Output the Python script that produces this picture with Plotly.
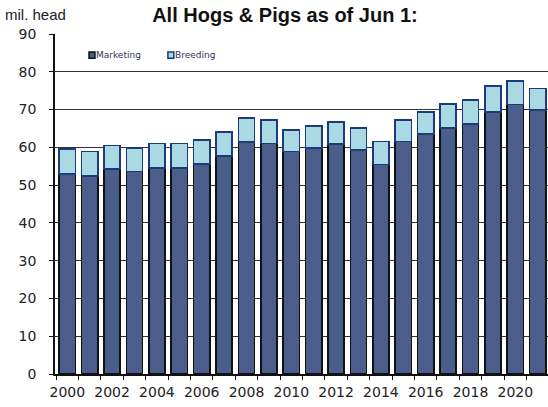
import plotly.graph_objects as go

years = list(range(2000, 2022))
total = [59.5, 58.9, 60.5, 59.8, 61.0, 61.0, 62.0, 64.1, 67.7, 67.3, 64.6,
         65.7, 66.7, 65.1, 61.5, 67.2, 69.3, 71.5, 72.5, 76.2, 77.6, 75.6]
marketing = [53.0, 52.4, 54.2, 53.6, 54.6, 54.5, 55.6, 57.7, 61.4, 61.0, 58.9,
             59.8, 60.9, 59.3, 55.5, 61.5, 63.5, 65.1, 66.1, 69.3, 71.3, 69.9]
breeding = [round(t - m, 1) for t, m in zip(total, marketing)]
label_years = list(range(2000, 2021, 2))
y_ticks = list(range(0, 91, 10))

FONT = "Liberation Sans, Arial, sans-serif"
WIDE = "DejaVu Sans, sans-serif"

MKT_FILL, MKT_LINE = "#4a5d8b", "#111111"
BRD_FILL, BRD_LINE = "#a9d9e3", "#1d3b7a"

fig = go.Figure()
fig.add_trace(go.Bar(x=years, y=marketing, name="Marketing", width=0.72,
                     marker=dict(color=MKT_FILL, line=dict(color=MKT_LINE, width=1.6))))
fig.add_trace(go.Bar(x=years, y=breeding, name="Breeding", width=0.72,
                     marker=dict(color=BRD_FILL, line=dict(color=BRD_LINE, width=1.6))))

fig.update_layout(
    barmode="stack",
    width=548, height=407,
    margin=dict(l=55, r=0, t=34, b=33),
    paper_bgcolor="white", plot_bgcolor="white",
    font=dict(family=FONT, color="#222222", size=12),
    title=dict(text="<b>All Hogs & Pigs as of Jun 1:</b>", x=0.52, xanchor="center",
               y=0.963, yanchor="middle", font=dict(size=20, color="#111111")),
    showlegend=False,
)
fig.update_xaxes(
    range=[1999.45, 2021.46],
    tickvals=label_years, ticktext=[str(y) for y in label_years],
    ticks="", showgrid=False, showline=True, linecolor="#111111", linewidth=1.5,
    tickfont=dict(size=14, color="#222222", family=WIDE), ticklabelstandoff=4,
    minor=dict(tick0=1999.5, dtick=1, ticks="outside", ticklen=4, tickcolor="#111111",
               tickwidth=1.2, showgrid=False),
    zeroline=False,
)
fig.update_yaxes(
    range=[0, 90], tickvals=y_ticks,
    ticks="outside", ticklen=4, tickcolor="#111111", tickwidth=1.2,
    showgrid=True, gridcolor="#333333", gridwidth=1.3,
    showline=True, linecolor="#111111", linewidth=1.5,
    tickfont=dict(size=14, color="#222222", family=WIDE), ticklabelstandoff=10,
    zeroline=False,
)
fig.add_annotation(text="mil. head", xref="paper", yref="paper", x=-0.105, y=1.058,
                   xanchor="left", yanchor="middle", showarrow=False,
                   font=dict(size=15, color="#222222"))

# compact legend (small squares + labels), as in the reference
legend_items = [("Marketing", MKT_FILL, MKT_LINE, 0.069), ("Breeding", BRD_FILL, BRD_LINE, 0.229)]
for name, fill, line, x0 in legend_items:
    fig.add_shape(type="rect", xref="paper", yref="paper",
                  x0=x0, x1=x0 + 0.012, y0=0.929, y1=0.947,
                  fillcolor=fill, line=dict(color=line, width=1.5))
    fig.add_annotation(text=name, xref="paper", yref="paper", x=x0 + 0.013, y=0.938,
                       xanchor="left", yanchor="middle", showarrow=False, borderpad=0,
                       font=dict(size=9, color="#333355", family=WIDE))

fig.write_html("out.html")
